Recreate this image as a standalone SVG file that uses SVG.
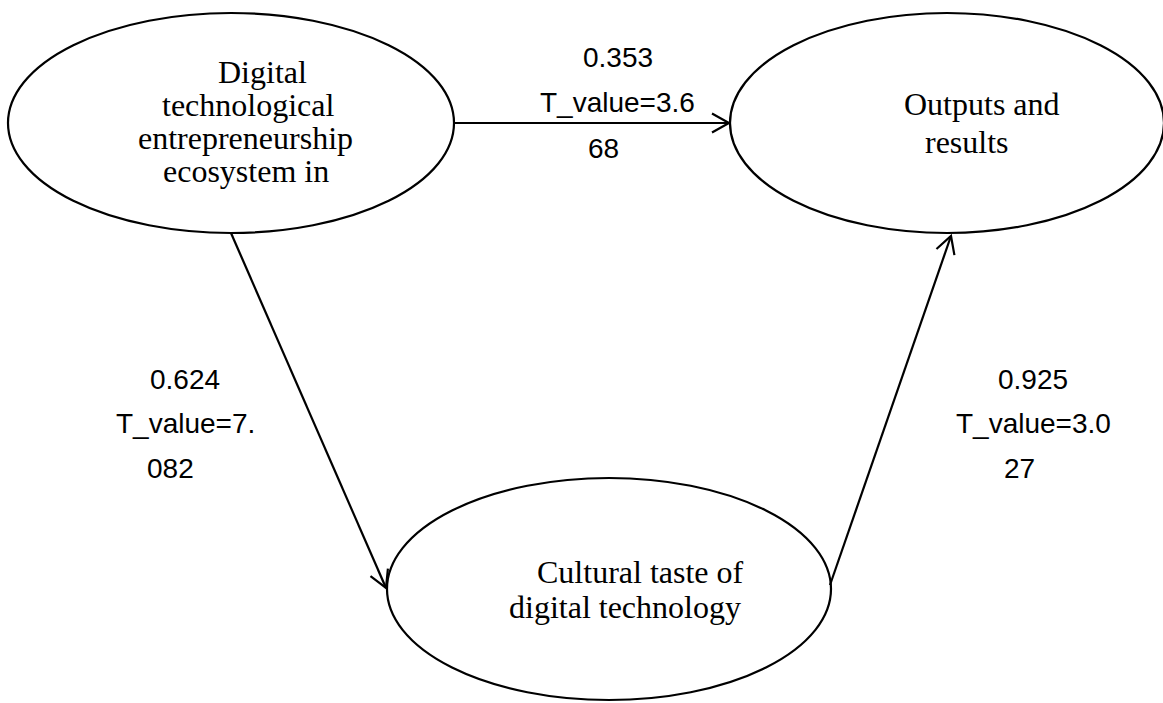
<svg xmlns="http://www.w3.org/2000/svg" width="1163" height="703" viewBox="0 0 1163 703">
<style>
.node{fill:#fff;stroke:#000;stroke-width:2.2}
.lbl{font-family:"Liberation Serif","Times New Roman",serif;font-size:32px;fill:#000}
.num{font-family:"Liberation Sans",Arial,sans-serif;font-size:28px;fill:#000}
.edge{stroke:#000;stroke-width:2.2;fill:none;marker-end:url(#arr)}
</style>
<defs>
<marker id="arr" markerUnits="userSpaceOnUse" markerWidth="30" markerHeight="30" refX="20" refY="10" orient="auto" viewBox="0 0 30 20">
<path d="M3,0.5 L20,10 L3,19.5" fill="none" stroke="#000" stroke-width="2.2"/>
</marker>
</defs>
<rect width="1163" height="703" fill="#fff"/>
<g id="node-ecosystem">
<ellipse class="node" cx="231" cy="123" rx="223" ry="110"/>
<text class="lbl" x="218" y="83">Digital</text>
<text class="lbl" x="162" y="116">technological</text>
<text class="lbl" x="138" y="149">entrepreneurship</text>
<text class="lbl" x="163" y="182">ecosystem in</text>
</g>
<g id="node-outputs">
<ellipse class="node" cx="947" cy="123" rx="217" ry="110"/>
<text class="lbl" x="904" y="115">Outputs and</text>
<text class="lbl" x="925" y="153">results</text>
</g>
<g id="node-cultural">
<ellipse class="node" cx="609" cy="589" rx="222" ry="111"/>
<text class="lbl" x="537" y="583">Cultural taste of</text>
<text class="lbl" x="509" y="618">digital technology</text>
</g>
<g id="connectors">
<line class="edge" x1="454" y1="123" x2="729" y2="123"/>
<line class="edge" x1="231" y1="233" x2="386" y2="588"/>
<line class="edge" x1="830" y1="585" x2="951" y2="236"/>
</g>
<g id="labels">
<text class="num" x="583" y="67">0.353</text>
<text class="num" x="540" y="112">T_value=3.6</text>
<text class="num" x="588" y="158">68</text>
<text class="num" x="150" y="389">0.624</text>
<text class="num" x="116" y="433">T_value=7.</text>
<text class="num" x="147" y="478">082</text>
<text class="num" x="998" y="389">0.925</text>
<text class="num" x="956" y="433">T_value=3.0</text>
<text class="num" x="1004" y="478">27</text>
</g>
</svg>
